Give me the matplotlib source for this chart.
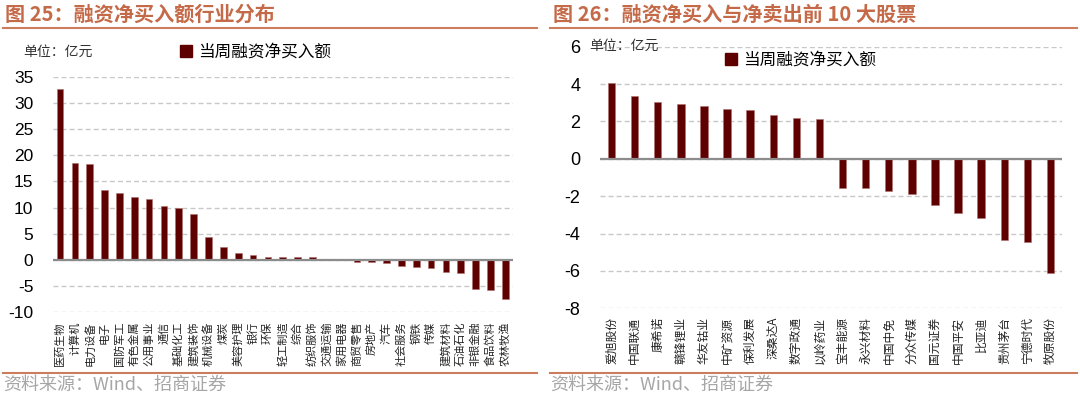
import matplotlib
matplotlib.use('Agg')
import matplotlib.pyplot as plt
from matplotlib.patches import Patch
from matplotlib.lines import Line2D

plt.rcParams['font.family'] = ['Noto Sans CJK SC', 'DejaVu Sans']
plt.rcParams['axes.unicode_minus'] = False

# ---------------- data ----------------
industries = ['医药生物', '计算机', '电力设备', '电子', '国防军工', '有色金属', '公用事业',
              '通信', '基础化工', '建筑装饰', '机械设备', '煤炭', '美容护理', '银行', '环保',
              '轻工制造', '综合', '纺织服饰', '交通运输', '家用电器', '商贸零售', '房地产',
              '汽车', '社会服务', '钢铁', '传媒', '建筑材料', '石油石化', '非银金融',
              '食品饮料', '农林牧渔']
industry_values = [32.7, 18.5, 18.3, 13.4, 12.7, 12.1, 11.7, 10.2, 10.0, 8.8, 4.3, 2.4,
                   1.3, 0.9, 0.55, 0.45, 0.45, 0.45, -0.05, -0.1, -0.4, -0.5, -0.7,
                   -1.2, -1.4, -1.6, -2.4, -2.6, -5.6, -5.8, -7.6]

stocks = ['爱旭股份', '中国联通', '康希诺', '赣锋锂业', '华友钴业', '中矿资源', '保利发展',
          '深桑达A', '数字政通', '以岭药业', '宝丰能源', '永兴材料', '中国中免', '分众传媒',
          '国元证券', '中国平安', '比亚迪', '贵州茅台', '宁德时代', '牧原股份']
stock_values = [4.05, 3.37, 3.06, 2.92, 2.83, 2.68, 2.59, 2.36, 2.2, 2.13,
                -1.55, -1.55, -1.73, -1.87, -2.49, -2.92, -3.19, -4.36, -4.47, -6.12]

left_yticks = [35, 30, 25, 20, 15, 10, 5, 0, -5, -10]
right_yticks = [6, 4, 2, 0, -2, -4, -6, -8]

legend_label = '当周融资净买入额'
unit_label = '单位：亿元'
title_left = '图 25：融资净买入额行业分布'
title_right = '图 26：融资净买入与净卖出前 10 大股票'
source_text = '资料来源：Wind、招商证券'

# ---------------- style ----------------
BAR = '#5E0000'
TITLE_C = '#C46A48'
LINE_C = '#CB7D5E'
GRID_C = '#C8C8C8'
ZERO_C = '#8C8C8C'
SRC_C = '#A6A6A6'

W, H = 1080, 399
fig = plt.figure(figsize=(W / 100, H / 100), dpi=100)


def px(x0, y0, x1, y1):
    return [x0 / W, 1 - y1 / H, (x1 - x0) / W, (y1 - y0) / H]


def style_axes(ax, cats, vals, yticks, width, xfs, yfs, xpad):
    x = list(range(len(cats)))
    ax.bar(x, vals, width=width, color=BAR, edgecolor='#B07070', linewidth=0.4,
           label=legend_label, zorder=3)
    ax.set_xlim(-0.5, len(cats) - 0.5)
    ax.set_ylim(min(yticks), max(yticks))
    ax.set_yticks(yticks)
    ax.set_yticklabels([str(t) for t in yticks], fontsize=yfs, family='Liberation Sans')
    ax.set_xticks(x)
    ax.set_xticklabels(cats, rotation=90, fontsize=xfs, va='top', ha='center',
                       color='#222222')
    ax.tick_params(axis='both', length=0)
    ax.tick_params(axis='y', pad=14)
    ax.tick_params(axis='x', pad=xpad)
    for s in ax.spines.values():
        s.set_visible(False)
    ax.set_axisbelow(True)
    ax.yaxis.grid(True, linestyle=(0, (3.6, 2.2)), color=GRID_C, linewidth=1)
    ax.xaxis.grid(False)
    ax.axhline(0, color=ZERO_C, linewidth=1.6, zorder=4)


ax1 = fig.add_axes(px(52.7, 77.3, 512.7, 311.7))
style_axes(ax1, industries, industry_values, left_yticks, 0.45, 8, 12.5, 7)

ax2 = fig.add_axes(px(600, 46.7, 1062, 308.3))
style_axes(ax2, stocks, stock_values, right_yticks, 0.32, 8.5, 13, 6)

# legends
for ax, (lx, ly) in ((ax1, (180, 52)), (ax2, (725, 60))):
    ax.legend(handles=[Patch(facecolor=BAR, edgecolor=BAR, label=legend_label)],
              loc='center left', bbox_to_anchor=(lx / W, 1 - ly / H),
              bbox_transform=fig.transFigure, frameon=False, fontsize=12,
              handlelength=0.7, handleheight=0.7, handletextpad=0.4,
              borderpad=0, borderaxespad=0)

# unit labels
fig.text(23 / W, 1 - 51.7 / H, unit_label, fontsize=10, va='center', ha='left', color='#333333')
fig.text(589 / W, 1 - 46 / H, unit_label, fontsize=10, va='center', ha='left', color='#333333')

# titles and decorative lines
fig.text(5 / W, 1 - 14.5 / H, title_left, fontsize=14.5, fontweight='bold', color=TITLE_C,
         va='center', ha='left')
fig.text(553 / W, 1 - 14.5 / H, title_right, fontsize=14.5, fontweight='bold', color=TITLE_C,
         va='center', ha='left')
for (x0, x1) in ((3, 537), (550, 1077)):
    fig.add_artist(Line2D([x0 / W, x1 / W], [1 - 28 / H] * 2, transform=fig.transFigure,
                          color=LINE_C, linewidth=1.5))
    fig.add_artist(Line2D([x0 / W, x1 / W], [1 - 372.7 / H] * 2, transform=fig.transFigure,
                          color=LINE_C, linewidth=1.5))

fig.text(3 / W, 1 - 385 / H, source_text, fontsize=13, color=SRC_C, va='center', ha='left')
fig.text(550 / W, 1 - 385 / H, source_text, fontsize=13, color=SRC_C, va='center', ha='left')

fig.savefig('out.png', dpi=100)
